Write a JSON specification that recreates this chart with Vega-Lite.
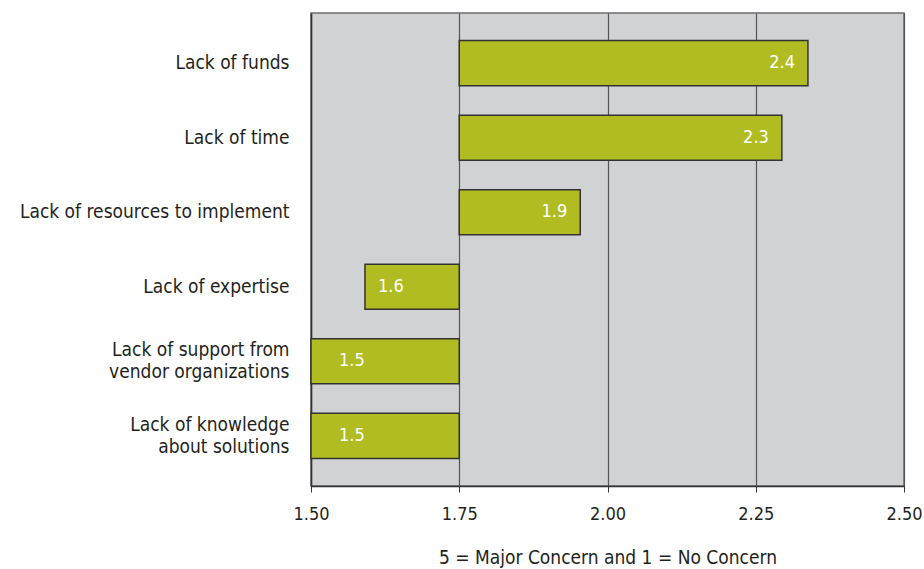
{
  "$schema": "https://vega.github.io/schema/vega-lite/v6.json",
  "autosize": "none",
  "width": 593,
  "height": 473,
  "padding": {"left": 311, "top": 13, "right": 20, "bottom": 83},
  "background": "white",
  "config": {
    "font": "Liberation Sans Narrow, DejaVu Sans Condensed, sans-serif",
    "view": {"fill": "#d1d2d4", "stroke": "#6d6e70", "strokeWidth": 1.5}
  },
  "data": {
    "values": [
      {"issue": "Lack of funds", "value": 2.338, "label": "2.4", "side": "hi"},
      {"issue": "Lack of time", "value": 2.294, "label": "2.3", "side": "hi"},
      {"issue": "Lack of resources to implement", "value": 1.954, "label": "1.9", "side": "hi"},
      {"issue": "Lack of expertise", "value": 1.591, "label": "1.6", "side": "lo"},
      {"issue": "Lack of support from\nvendor organizations", "value": 1.5, "label": "1.5", "side": "edge"},
      {"issue": "Lack of knowledge\nabout solutions", "value": 1.5, "label": "1.5", "side": "edge"}
    ]
  },
  "encoding": {
    "y": {
      "field": "issue",
      "type": "nominal",
      "sort": null,
      "scale": {"paddingInner": 0.395, "paddingOuter": 0.37},
      "axis": {
        "title": null,
        "ticks": false,
        "domain": true,
        "domainColor": "#333333",
        "domainWidth": 1.5,
        "labelExpr": "split(datum.value, '\\n')",
        "labelFontSize": 19,
        "labelColor": "#231f20",
        "labelPadding": 22,
        "labelLineHeight": 22,
        "labelLimit": 320,
        "labelOffset": {
          "condition": {"test": "indexof(datum.value, '\\n') >= 0", "value": -11},
          "value": 0
        }
      }
    }
  },
  "layer": [
    {
      "mark": {"type": "bar", "color": "#b0bc21", "stroke": "#333333", "strokeWidth": 1.5},
      "encoding": {
        "x": {
          "field": "value",
          "type": "quantitative",
          "scale": {"domain": [1.5, 2.5], "zero": false, "nice": false},
          "axis": {
            "values": [1.5, 1.75, 2.0, 2.25, 2.5],
            "format": ".2f",
            "grid": true,
            "gridColor": "#555555",
            "gridWidth": 1.2,
            "domain": true,
            "domainColor": "#333333",
            "domainWidth": 1.5,
            "ticks": true,
            "tickColor": "#333333",
            "tickSize": 6,
            "labelFontSize": 18,
            "labelColor": "#231f20",
            "labelPadding": 13,
            "labelFlush": false,
            "title": "5 = Major Concern and 1 = No Concern",
            "titleFontSize": 19,
            "titleFontWeight": "normal",
            "titleColor": "#231f20",
            "titlePadding": 25
          }
        },
        "x2": {"datum": 1.75}
      }
    },
    {
      "transform": [{"filter": "datum.side == 'hi'"}],
      "mark": {"type": "text", "align": "right", "baseline": "middle", "dx": -13, "color": "white", "fontSize": 18},
      "encoding": {
        "x": {"field": "value", "type": "quantitative"},
        "text": {"field": "label"}
      }
    },
    {
      "transform": [{"filter": "datum.side == 'lo'"}],
      "mark": {"type": "text", "align": "left", "baseline": "middle", "dx": 13, "color": "white", "fontSize": 18},
      "encoding": {
        "x": {"field": "value", "type": "quantitative"},
        "text": {"field": "label"}
      }
    },
    {
      "transform": [{"filter": "datum.side == 'edge'"}],
      "mark": {"type": "text", "align": "left", "baseline": "middle", "dx": 28, "color": "white", "fontSize": 18},
      "encoding": {
        "x": {"field": "value", "type": "quantitative"},
        "text": {"field": "label"}
      }
    }
  ]
}
